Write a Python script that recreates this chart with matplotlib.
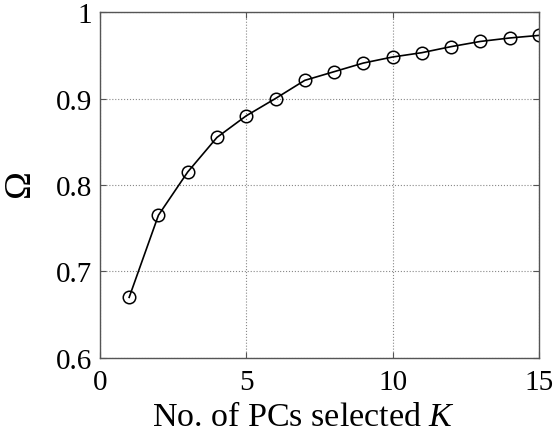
# -*- coding: utf-8 -*-
# Omega vs number of PCs selected

import numpy as np
import matplotlib
matplotlib.use('Agg')
import matplotlib.pyplot as plt

plt.rcParams['font.family'] = ['Liberation Serif', 'DejaVu Serif']
plt.rcParams['mathtext.fontset'] = 'custom'
plt.rcParams['mathtext.it'] = 'Liberation Serif:italic'
plt.rcParams['mathtext.rm'] = 'Liberation Serif'

# number of PCs and the corresponding Omega values
k = [1, 2, 3, 4, 5, 6, 7, 8, 9, 10, 11, 12, 13, 14, 15]
omega = [0.670, 0.765, 0.815, 0.855, 0.880, 0.900, 0.921, 0.931, 0.941,
         0.948, 0.953, 0.960, 0.966, 0.970, 0.973]

x_ticks = [0, 5, 10, 15]
y_ticks = [0.6, 0.7, 0.8, 0.9, 1.0]
y_tick_labels = ['0.6', '0.7', '0.8', '0.9', '1']

fig = plt.figure(figsize=(5.55, 4.35), dpi=100)
ax = fig.add_axes([0.180, 0.175, 0.791, 0.795])

ax.plot(k, omega, 'k-', marker='o', markersize=9, markerfacecolor='none',
        markeredgecolor='k', linewidth=1.2, markeredgewidth=1.1)

ax.set_xlim(0, 15)
ax.set_ylim(0.6, 1.0)
ax.set_xticks(x_ticks)
ax.set_yticks(y_ticks)
ax.set_yticklabels(y_tick_labels)

ax.grid(True, linestyle=':', color='#888888', linewidth=0.8)
ax.tick_params(direction='in', top=True, right=True, labelsize=21,
               length=4, color='#555555')
ax.tick_params(axis='x', pad=8)
ax.tick_params(axis='y', pad=5.5)
for s in ax.spines.values():
    s.set_color('#555555')
    s.set_linewidth(1.0)

ax.set_xlabel('No. of PCs selected $K$', fontsize=24.5)
ax.xaxis.set_label_coords(0.464, -0.125)
ax.set_ylabel(r'$\mathrm{\Omega}$', fontsize=27, labelpad=12)

plt.savefig('out.png', dpi=100)
